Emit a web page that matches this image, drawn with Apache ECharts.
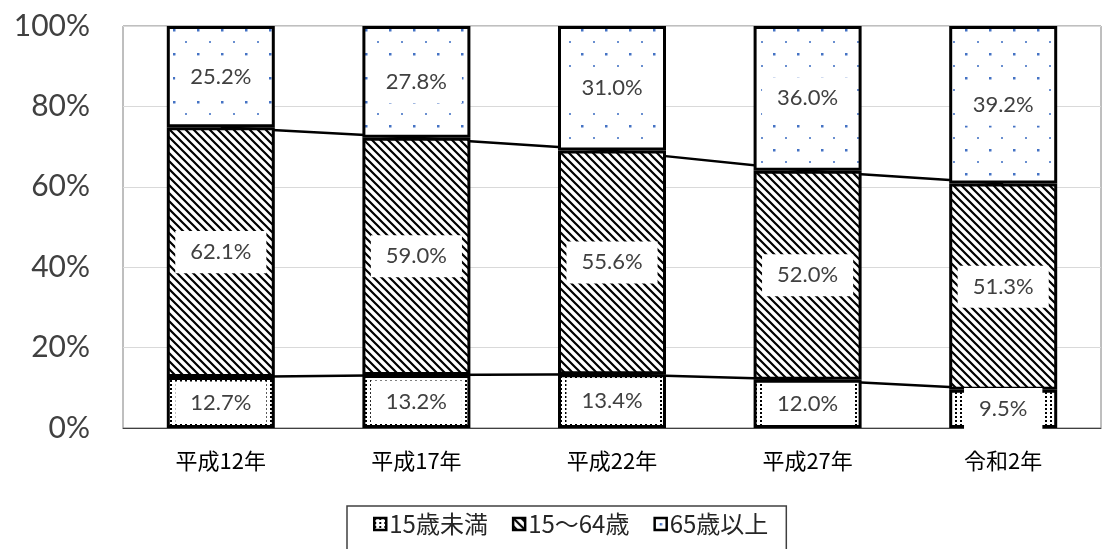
<!DOCTYPE html>
<html><head><meta charset="utf-8">
<script src="https://cdn.jsdelivr.net/npm/echarts@6/dist/echarts.min.js"></script>
<style>html,body{margin:0;padding:0;background:#fff}#c{width:1103px;height:549px}</style>
</head><body><div id="c"></div>
<script>
const categories = ['平成12年', '平成17年', '平成22年', '平成27年', '令和2年'];
const seriesNames = ['15歳未満', '15～64歳', '65歳以上'];
const under15 = [12.7, 13.2, 13.4, 12.0, 9.5];
const age15to64 = [62.1, 59.0, 55.6, 52.0, 51.3];
const over65 = [25.2, 27.8, 31.0, 36.0, 39.2];
const yTicks = [0, 20, 40, 60, 80, 100];

function makeCanvas(w, h, draw) {
  const c = document.createElement('canvas');
  c.width = w; c.height = h;
  const ctx = c.getContext('2d');
  ctx.fillStyle = '#fff'; ctx.fillRect(0, 0, w, h);
  draw(ctx);
  return c;
}
const hatch = makeCanvas(8, 8, ctx => {
  ctx.strokeStyle = '#000'; ctx.lineWidth = 2.2;
  ctx.beginPath();
  ctx.moveTo(-2, -2); ctx.lineTo(10, 10);
  ctx.moveTo(-2, 6); ctx.lineTo(2, 10);
  ctx.moveTo(6, -2); ctx.lineTo(10, 2);
  ctx.stroke();
});
const dots = makeCanvas(24, 24, ctx => {
  ctx.fillStyle = '#4472c4';
  ctx.fillRect(5, 5, 2.5, 2.5);
  ctx.fillStyle = '#6a8fd0';
  ctx.fillRect(17, 17, 2, 2);
});
const dotted = makeCanvas(5, 4, ctx => {
  ctx.fillStyle = '#000';
  ctx.fillRect(0, 0, 2, 2);
});

const font = "Lato, 'Noto Sans CJK JP', sans-serif";
const lower = under15;
const upper = under15.map((v, i) => +(v + age15to64[i]).toFixed(1));

const labelCfg = {
  show: true, position: 'inside',
  formatter: p => p.value.toFixed(1) + '%',
  color: '#404040', fontSize: 22, fontFamily: font,
  backgroundColor: '#fff', padding: [10, 15]
};
const barBase = {
  type: 'bar', stack: 'total', barWidth: 108, z: 3,
  label: labelCfg
};

const chart = echarts.init(document.getElementById('c'));
chart.setOption({
  animation: false,
  backgroundColor: '#fff',
  grid: { left: 123, right: 2, top: 26, bottom: 121, show: true, borderColor: '#7f7f7f', borderWidth: 1 },
  legend: {
    data: seriesNames,
    left: 347, top: 506,
    itemWidth: 12, itemHeight: 12, itemGap: 24,
    icon: 'rect',
    itemStyle: { borderWidth: 2.5, borderColor: '#000' },
    textStyle: { fontSize: 24, color: '#262626', fontFamily: "'Noto Sans CJK JP', sans-serif", padding: [0, 0, 0, -2] },
    padding: [6, 18, 30, 26],
    borderColor: '#404040', borderWidth: 1.5
  },
  xAxis: {
    type: 'category', data: categories,
    axisLine: { lineStyle: { color: '#404040', width: 1 } },
    axisTick: { show: false },
    axisLabel: { fontSize: 22, color: '#000', margin: 22, fontFamily: "'Noto Sans CJK JP', sans-serif" }
  },
  yAxis: {
    type: 'value', min: yTicks[0], max: yTicks[yTicks.length - 1], interval: 20,
    axisLine: { show: false }, axisTick: { show: false },
    splitLine: { lineStyle: { color: '#d9d9d9', width: 1 } },
    axisLabel: { formatter: '{value}%', fontSize: 30, color: '#404040', margin: 33, fontFamily: font }
  },
  series: [
    Object.assign({}, barBase, {
      name: seriesNames[0], data: under15,
      itemStyle: { color: { image: dotted, repeat: 'repeat' }, borderColor: '#000', borderWidth: 3 }
    }),
    Object.assign({}, barBase, {
      name: seriesNames[1], data: age15to64,
      itemStyle: { color: { image: hatch, repeat: 'repeat' }, borderColor: '#000', borderWidth: 3 }
    }),
    Object.assign({}, barBase, {
      name: seriesNames[2], data: over65,
      itemStyle: { color: { image: dots, repeat: 'repeat' }, borderColor: '#000', borderWidth: 3 }
    }),
    { type: 'line', data: lower, z: 1, symbol: 'none', silent: true, lineStyle: { color: '#000', width: 2.5 }, legendHoverLink: false },
    { type: 'line', data: upper, z: 1, symbol: 'none', silent: true, lineStyle: { color: '#000', width: 2.5 }, legendHoverLink: false }
  ]
});
</script>
</body></html>
